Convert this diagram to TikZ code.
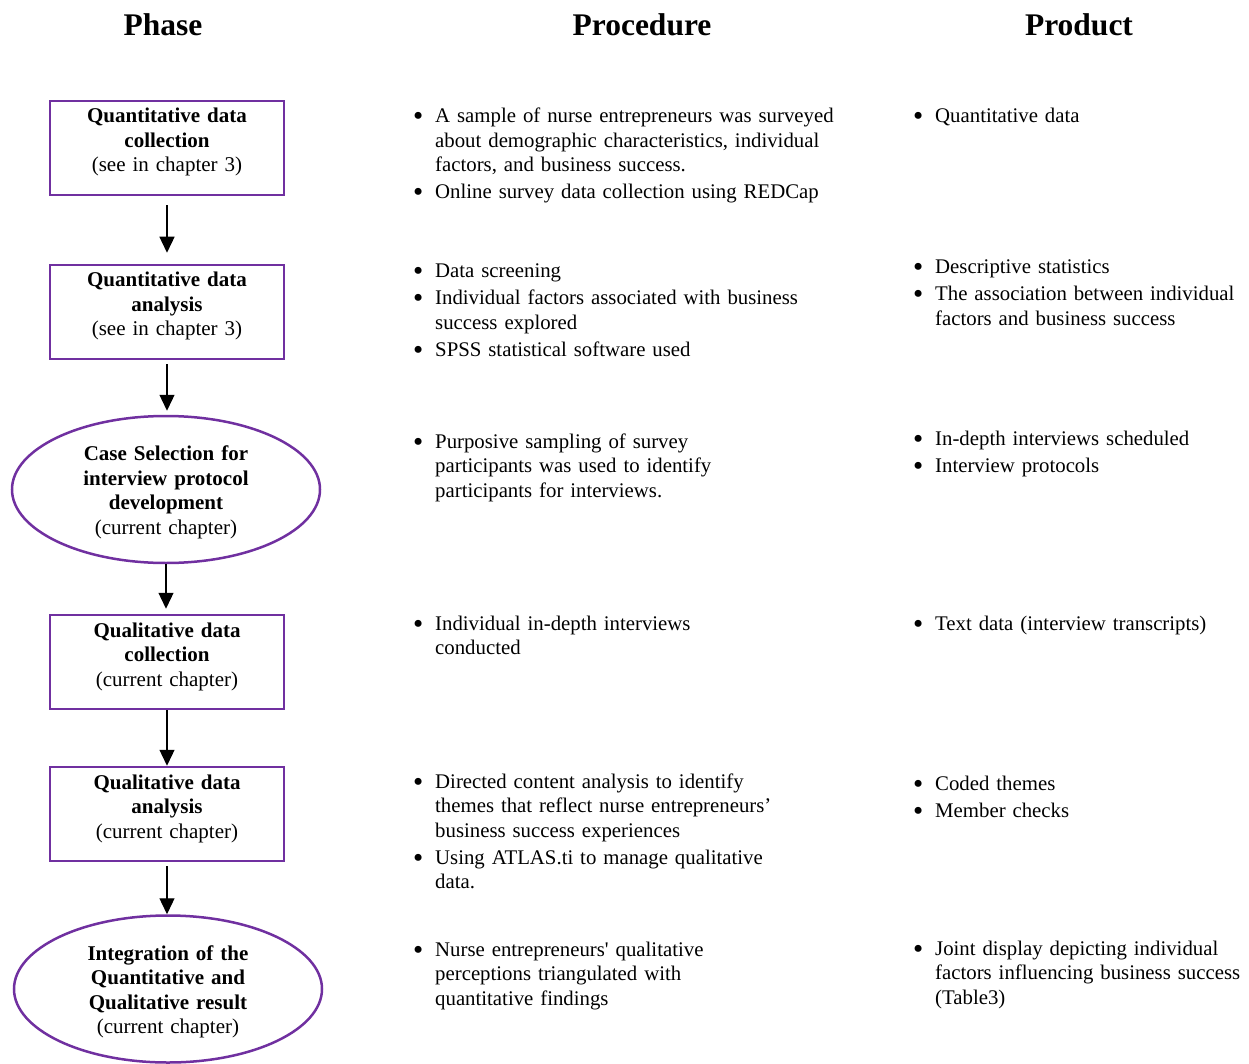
\documentclass[tikz,border=0pt]{standalone}
\usepackage{fontspec}
\setmainfont{Liberation Serif}
\newfontfamily\rawserif{Liberation Serif}
\usetikzlibrary{positioning,arrows.meta,shapes.geometric}
\definecolor{phasepurple}{RGB}{112,48,160}
\newenvironment{bullets}{\begin{list}{\raisebox{-3pt}{\scalebox{1.4}{\textbullet}}}{\setlength{\leftmargin}{35pt}\setlength{\labelwidth}{20pt}\setlength{\labelsep}{12pt}\setlength{\itemsep}{2.5pt}\setlength{\parsep}{0pt}\setlength{\topsep}{0pt}\setlength{\partopsep}{0pt}}}{\end{list}}
\tikzset{
  head/.style={anchor=base, inner sep=0pt, font=\fontsize{31.5}{36}\selectfont\bfseries},
  phasebox/.style={draw=phasepurple, line width=2.5pt, text width=226pt, align=center,
    inner xsep=4pt, inner ysep=8pt, text height=14pt, text depth=64pt,
    font=\fontsize{21}{24.5}\selectfont},
  phaseoval/.style={ellipse, draw=phasepurple, line width=2.5pt, text width=180pt, align=center,
    inner sep=2pt, minimum width=308pt, minimum height=147pt, text height=20pt,
    font=\fontsize{21}{24.5}\selectfont},
  steps/.style={anchor=base west, inner sep=0pt, text width=480pt,
    font=\fontsize{20.8}{24.5}\selectfont},
  output/.style={steps, text width=360pt},
  flow/.style={-{Triangle[width=15pt,length=16pt]}, line width=1.3pt}
}
\begin{document}
\begin{tikzpicture}[x=1pt,y=-1pt]
		\useasboundingbox (0,0) rectangle (1249,1064);
		
		% column heads
		\node[head] (phase) at (163,36) {Phase};
		\node[head] (procedure) at (642,36) {Procedure};
		\node[head] (product) at (1079,36) {Product};
		
		% phases
		\node[phasebox] (qcol) at (167,148) {\textbf{Quantitative data}\\\textbf{collection}\\(see in chapter 3)};
		\node[phasebox] (qana) at (167,312) {\textbf{Quantitative data}\\\textbf{analysis}\\(see in chapter 3)};
		\node[phaseoval] (case) at (166,489.5) {\textbf{Case Selection for}\\\textbf{interview protocol}\\\textbf{development}\\(current chapter)};
		\node[phasebox] (qlcol) at (167,662) {\textbf{Qualitative data}\\\textbf{collection}\\(current chapter)};
		\node[phasebox] (qlana) at (167,814) {\textbf{Qualitative data}\\\textbf{analysis}\\(current chapter)};
		\node[phaseoval] (integ) at (168,989) {\textbf{Integration of the}\\\textbf{Quantitative and}\\\textbf{Qualitative result}\\(current chapter)};
		
		\draw[flow, shorten <=9pt, shorten >=11pt] (qcol) -- (qana);
		\draw[flow, shorten <=4pt, shorten >=4pt] (qana.south) -- (qana.south |- case.north);
		\draw[flow, shorten >=5pt] (case.south) -- (case.south |- qlcol.north);
		\draw[flow] (qlcol) -- (qlana);
		\draw[flow, shorten <=4pt] (qlana.south) -- (qlana.south |- integ.north);
		
		% procedures
		\node[steps] (proc1) at (400,98.5) {\begin{bullets}
			\item A sample of nurse entrepreneurs was surveyed\\about demographic characteristics, individual\\factors, and business success.
			\item Online survey data collection using REDCap
		\end{bullets}};
		\node[steps] (proc2) at (400,253.5) {\begin{bullets}
			\item Data screening
			\item Individual factors associated with business\\success explored
			\item SPSS statistical software used
		\end{bullets}};
		\node[steps] (proc3) at (400,423.5) {\begin{bullets}
			\item Purposive sampling of survey\\participants was used to identify\\participants for interviews.
		\end{bullets}};
		\node[steps] (proc4) at (400,605.5) {\begin{bullets}
			\item Individual in-depth interviews\\conducted
		\end{bullets}};
		\node[steps] (proc5) at (400,763.5) {\begin{bullets}
			\item Directed content analysis to identify\\themes that reflect nurse entrepreneurs’\\business success experiences
			\item Using ATLAS.ti to manage qualitative\\data.
		\end{bullets}};
		\node[steps] (proc6) at (400,931.5) {\begin{bullets}
			\item Nurse entrepreneurs{\rawserif'} qualitative\\perceptions triangulated with\\quantitative findings
		\end{bullets}};
		
		% products
		\node[output] (prod1) at (900,98.5) {\begin{bullets}
			\item Quantitative data
		\end{bullets}};
		\node[output] (prod2) at (900,249.5) {\begin{bullets}
			\item Descriptive statistics
			\item The association between individual\\factors and business success
		\end{bullets}};
		\node[output] (prod3) at (900,420.5) {\begin{bullets}
			\item In-depth interviews scheduled
			\item Interview protocols
		\end{bullets}};
		\node[output] (prod4) at (900,605.5) {\begin{bullets}
			\item Text data (interview transcripts)
		\end{bullets}};
		\node[output] (prod5) at (900,765.5) {\begin{bullets}
			\item Coded themes
			\item Member checks
		\end{bullets}};
		\node[output] (prod6) at (900,930.5) {\begin{bullets}
			\item Joint display depicting individual\\factors influencing business success\\(Table3)
		\end{bullets}};
	\end{tikzpicture}
\end{document}
